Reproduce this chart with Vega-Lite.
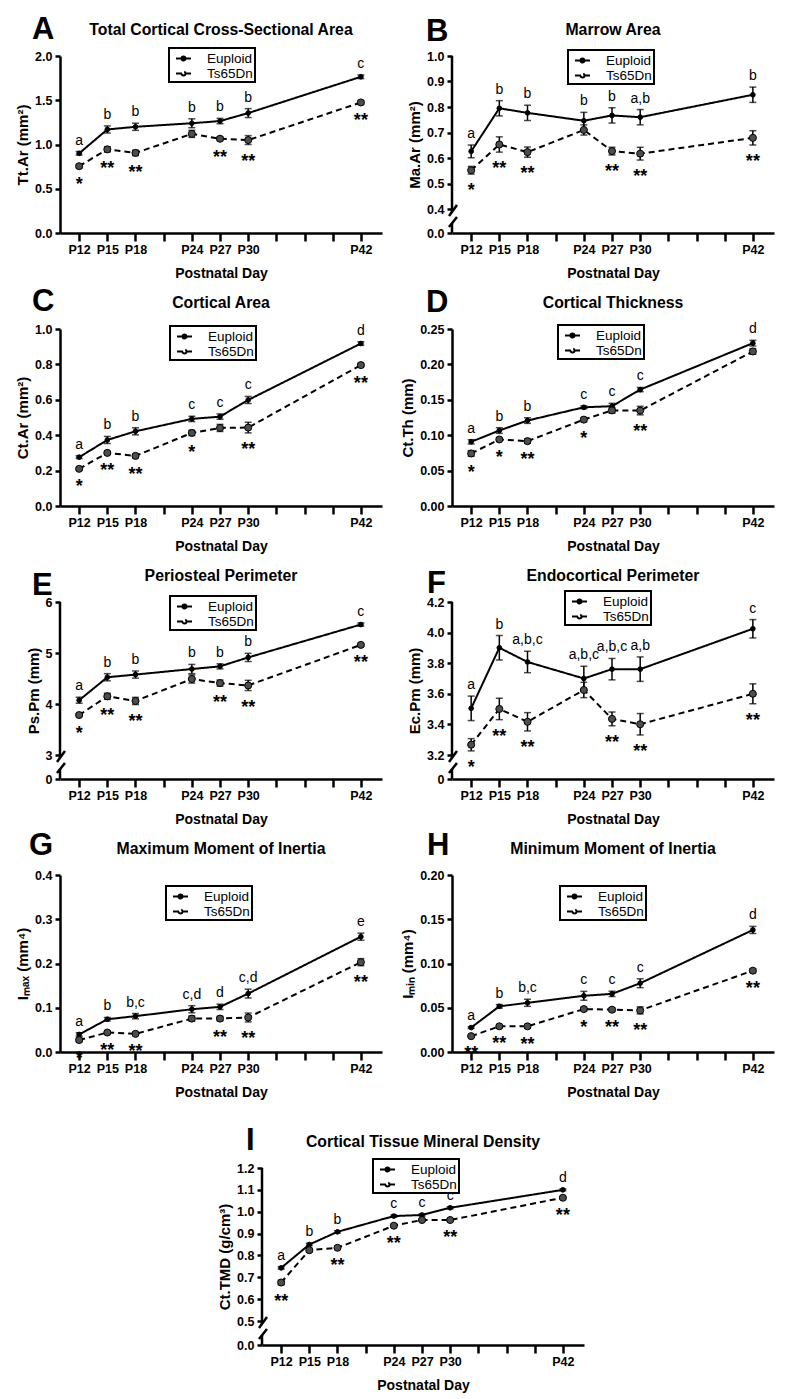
{
"$schema": "https://vega.github.io/schema/vega-lite/v6.json",
"padding": {"left": 15, "top": 14, "right": 5, "bottom": 5},
"background": "white",
"spacing": 25,
"resolve": {"scale": {"strokeDash": "independent"}, "legend": {"strokeDash": "independent"}},
"config": {
 "font": "Liberation Sans",
 "view": {"stroke": null},
 "axis": {"domainColor": "black", "domainWidth": 2.5, "tickColor": "black", "tickWidth": 2.5, "labelColor": "black", "labelFont": "Liberation Sans", "labelFontWeight": "bold", "labelFontSize": 12.5, "titleColor": "black", "titleFont": "Liberation Sans", "titleFontWeight": "bold", "grid": false, "labelOverlap": false, "labelFlush": false},
 "axisX": {"tickSize": 8, "labelPadding": 2, "titleFontSize": 14, "titlePadding": 11},
 "axisY": {"tickSize": 5, "labelPadding": 3, "titleFontSize": 15, "titlePadding": 4},
 "legend": {"strokeColor": "black", "strokeWidth": 2, "fillColor": "white", "padding": 2, "labelFont": "Liberation Sans", "labelFontSize": 13.5, "labelColor": "black", "symbolSize": 225, "symbolStrokeWidth": 2, "symbolOffset": 4, "labelOffset": 15, "rowPadding": 0},
 "text": {"font": "Liberation Sans", "color": "black"}
},
"datasets": {"d": [
{"p":"A","d":12,"g":"Euploid","m":0.9,"lo":0.88,"hi":0.92,"s":"a"},
{"p":"A","d":15,"g":"Euploid","m":1.17,"lo":1.13,"hi":1.21,"s":"b"},
{"p":"A","d":18,"g":"Euploid","m":1.2,"lo":1.16,"hi":1.24,"s":"b"},
{"p":"A","d":24,"g":"Euploid","m":1.24,"lo":1.19,"hi":1.29,"s":"b"},
{"p":"A","d":27,"g":"Euploid","m":1.265,"lo":1.235,"hi":1.295,"s":"b"},
{"p":"A","d":30,"g":"Euploid","m":1.355,"lo":1.305,"hi":1.405,"s":"b"},
{"p":"A","d":42,"g":"Euploid","m":1.765,"lo":1.745,"hi":1.785,"s":"c"},
{"p":"A","d":12,"g":"Ts65Dn","m":0.755,"lo":0.735,"hi":0.775,"s":"*"},
{"p":"A","d":15,"g":"Ts65Dn","m":0.945,"lo":0.915,"hi":0.975,"s":"**"},
{"p":"A","d":18,"g":"Ts65Dn","m":0.905,"lo":0.875,"hi":0.935,"s":"**"},
{"p":"A","d":24,"g":"Ts65Dn","m":1.12,"lo":1.08,"hi":1.16,"s":""},
{"p":"A","d":27,"g":"Ts65Dn","m":1.065,"lo":1.045,"hi":1.085,"s":"**"},
{"p":"A","d":30,"g":"Ts65Dn","m":1.05,"lo":1.0,"hi":1.1,"s":"**"},
{"p":"A","d":42,"g":"Ts65Dn","m":1.475,"lo":1.455,"hi":1.495,"s":"**"},
{"p":"B","d":12,"g":"Euploid","m":0.626,"lo":0.601,"hi":0.651,"s":"a"},
{"p":"B","d":15,"g":"Euploid","m":0.795,"lo":0.765,"hi":0.825,"s":"b"},
{"p":"B","d":18,"g":"Euploid","m":0.777,"lo":0.747,"hi":0.807,"s":"b"},
{"p":"B","d":24,"g":"Euploid","m":0.746,"lo":0.713,"hi":0.779,"s":"b"},
{"p":"B","d":27,"g":"Euploid","m":0.767,"lo":0.737,"hi":0.797,"s":"b"},
{"p":"B","d":30,"g":"Euploid","m":0.76,"lo":0.73,"hi":0.79,"s":"a,b"},
{"p":"B","d":42,"g":"Euploid","m":0.848,"lo":0.818,"hi":0.878,"s":"b"},
{"p":"B","d":12,"g":"Ts65Dn","m":0.552,"lo":0.537,"hi":0.567,"s":"*"},
{"p":"B","d":15,"g":"Ts65Dn","m":0.653,"lo":0.623,"hi":0.683,"s":"**"},
{"p":"B","d":18,"g":"Ts65Dn","m":0.623,"lo":0.603,"hi":0.643,"s":"**"},
{"p":"B","d":24,"g":"Ts65Dn","m":0.71,"lo":0.69,"hi":0.73,"s":""},
{"p":"B","d":27,"g":"Ts65Dn","m":0.627,"lo":0.612,"hi":0.642,"s":"**"},
{"p":"B","d":30,"g":"Ts65Dn","m":0.617,"lo":0.592,"hi":0.642,"s":"**"},
{"p":"B","d":42,"g":"Ts65Dn","m":0.679,"lo":0.651,"hi":0.707,"s":"**"},
{"p":"C","d":12,"g":"Euploid","m":0.276,"lo":0.268,"hi":0.284,"s":"a"},
{"p":"C","d":15,"g":"Euploid","m":0.373,"lo":0.353,"hi":0.393,"s":"b"},
{"p":"C","d":18,"g":"Euploid","m":0.422,"lo":0.402,"hi":0.442,"s":"b"},
{"p":"C","d":24,"g":"Euploid","m":0.492,"lo":0.477,"hi":0.507,"s":"c"},
{"p":"C","d":27,"g":"Euploid","m":0.505,"lo":0.49,"hi":0.52,"s":"c"},
{"p":"C","d":30,"g":"Euploid","m":0.599,"lo":0.579,"hi":0.619,"s":"c"},
{"p":"C","d":42,"g":"Euploid","m":0.918,"lo":0.908,"hi":0.928,"s":"d"},
{"p":"C","d":12,"g":"Ts65Dn","m":0.21,"lo":0.202,"hi":0.218,"s":"*"},
{"p":"C","d":15,"g":"Ts65Dn","m":0.3,"lo":0.292,"hi":0.308,"s":"**"},
{"p":"C","d":18,"g":"Ts65Dn","m":0.283,"lo":0.273,"hi":0.293,"s":"**"},
{"p":"C","d":24,"g":"Ts65Dn","m":0.413,"lo":0.398,"hi":0.428,"s":"*"},
{"p":"C","d":27,"g":"Ts65Dn","m":0.441,"lo":0.421,"hi":0.461,"s":""},
{"p":"C","d":30,"g":"Ts65Dn","m":0.443,"lo":0.413,"hi":0.473,"s":"**"},
{"p":"C","d":42,"g":"Ts65Dn","m":0.796,"lo":0.786,"hi":0.806,"s":"**"},
{"p":"D","d":12,"g":"Euploid","m":0.0907,"lo":0.0877,"hi":0.0937,"s":"a"},
{"p":"D","d":15,"g":"Euploid","m":0.1066,"lo":0.1026,"hi":0.1106,"s":"b"},
{"p":"D","d":18,"g":"Euploid","m":0.1207,"lo":0.1167,"hi":0.1247,"s":"b"},
{"p":"D","d":24,"g":"Euploid","m":0.1394,"lo":0.1374,"hi":0.1414,"s":"c"},
{"p":"D","d":27,"g":"Euploid","m":0.141,"lo":0.137,"hi":0.145,"s":"c"},
{"p":"D","d":30,"g":"Euploid","m":0.1644,"lo":0.1614,"hi":0.1674,"s":"c"},
{"p":"D","d":42,"g":"Euploid","m":0.23,"lo":0.226,"hi":0.234,"s":"d"},
{"p":"D","d":12,"g":"Ts65Dn","m":0.0742,"lo":0.0702,"hi":0.0782,"s":"*"},
{"p":"D","d":15,"g":"Ts65Dn","m":0.094,"lo":0.092,"hi":0.096,"s":"*"},
{"p":"D","d":18,"g":"Ts65Dn","m":0.0916,"lo":0.0886,"hi":0.0946,"s":"**"},
{"p":"D","d":24,"g":"Ts65Dn","m":0.122,"lo":0.119,"hi":0.125,"s":"*"},
{"p":"D","d":27,"g":"Ts65Dn","m":0.135,"lo":0.131,"hi":0.139,"s":""},
{"p":"D","d":30,"g":"Ts65Dn","m":0.1348,"lo":0.1288,"hi":0.1408,"s":"**"},
{"p":"D","d":42,"g":"Ts65Dn","m":0.2183,"lo":0.2143,"hi":0.2223,"s":""},
{"p":"E","d":12,"g":"Euploid","m":4.074,"lo":4.014,"hi":4.134,"s":"a"},
{"p":"E","d":15,"g":"Euploid","m":4.525,"lo":4.455,"hi":4.595,"s":"b"},
{"p":"E","d":18,"g":"Euploid","m":4.577,"lo":4.507,"hi":4.647,"s":"b"},
{"p":"E","d":24,"g":"Euploid","m":4.686,"lo":4.596,"hi":4.776,"s":"b"},
{"p":"E","d":27,"g":"Euploid","m":4.738,"lo":4.688,"hi":4.788,"s":"b"},
{"p":"E","d":30,"g":"Euploid","m":4.913,"lo":4.833,"hi":4.993,"s":"b"},
{"p":"E","d":42,"g":"Euploid","m":5.558,"lo":5.528,"hi":5.588,"s":"c"},
{"p":"E","d":12,"g":"Ts65Dn","m":3.783,"lo":3.753,"hi":3.813,"s":"*"},
{"p":"E","d":15,"g":"Ts65Dn","m":4.151,"lo":4.091,"hi":4.211,"s":"**"},
{"p":"E","d":18,"g":"Ts65Dn","m":4.06,"lo":3.99,"hi":4.13,"s":"**"},
{"p":"E","d":24,"g":"Ts65Dn","m":4.49,"lo":4.41,"hi":4.57,"s":""},
{"p":"E","d":27,"g":"Ts65Dn","m":4.41,"lo":4.35,"hi":4.47,"s":"**"},
{"p":"E","d":30,"g":"Ts65Dn","m":4.364,"lo":4.264,"hi":4.464,"s":"**"},
{"p":"E","d":42,"g":"Ts65Dn","m":5.159,"lo":5.129,"hi":5.189,"s":"**"},
{"p":"F","d":12,"g":"Euploid","m":3.505,"lo":3.425,"hi":3.585,"s":"a"},
{"p":"F","d":15,"g":"Euploid","m":3.901,"lo":3.821,"hi":3.981,"s":"b"},
{"p":"F","d":18,"g":"Euploid","m":3.808,"lo":3.738,"hi":3.878,"s":"a,b,c"},
{"p":"F","d":24,"g":"Euploid","m":3.7,"lo":3.62,"hi":3.78,"s":"a,b,c"},
{"p":"F","d":27,"g":"Euploid","m":3.761,"lo":3.691,"hi":3.831,"s":"a,b,c"},
{"p":"F","d":30,"g":"Euploid","m":3.761,"lo":3.681,"hi":3.841,"s":"a,b"},
{"p":"F","d":42,"g":"Euploid","m":4.025,"lo":3.965,"hi":4.085,"s":"c"},
{"p":"F","d":12,"g":"Ts65Dn","m":3.267,"lo":3.227,"hi":3.307,"s":"*"},
{"p":"F","d":15,"g":"Ts65Dn","m":3.501,"lo":3.431,"hi":3.571,"s":"**"},
{"p":"F","d":18,"g":"Ts65Dn","m":3.417,"lo":3.357,"hi":3.477,"s":"**"},
{"p":"F","d":24,"g":"Ts65Dn","m":3.625,"lo":3.575,"hi":3.675,"s":""},
{"p":"F","d":27,"g":"Ts65Dn","m":3.436,"lo":3.391,"hi":3.481,"s":"**"},
{"p":"F","d":30,"g":"Ts65Dn","m":3.401,"lo":3.331,"hi":3.471,"s":"**"},
{"p":"F","d":42,"g":"Ts65Dn","m":3.6,"lo":3.535,"hi":3.665,"s":"**"},
{"p":"G","d":12,"g":"Euploid","m":0.0396,"lo":0.0356,"hi":0.0436,"s":"a"},
{"p":"G","d":15,"g":"Euploid","m":0.074,"lo":0.07,"hi":0.078,"s":"b"},
{"p":"G","d":18,"g":"Euploid","m":0.081,"lo":0.075,"hi":0.087,"s":"b,c"},
{"p":"G","d":24,"g":"Euploid","m":0.0966,"lo":0.0886,"hi":0.1046,"s":"c,d"},
{"p":"G","d":27,"g":"Euploid","m":0.102,"lo":0.096,"hi":0.108,"s":"d"},
{"p":"G","d":30,"g":"Euploid","m":0.132,"lo":0.122,"hi":0.142,"s":"c,d"},
{"p":"G","d":42,"g":"Euploid","m":0.2606,"lo":0.2526,"hi":0.2686,"s":"e"},
{"p":"G","d":12,"g":"Ts65Dn","m":0.027,"lo":0.023,"hi":0.031,"s":"*"},
{"p":"G","d":15,"g":"Ts65Dn","m":0.044,"lo":0.041,"hi":0.047,"s":"**"},
{"p":"G","d":18,"g":"Ts65Dn","m":0.041,"lo":0.038,"hi":0.044,"s":"**"},
{"p":"G","d":24,"g":"Ts65Dn","m":0.0755,"lo":0.0695,"hi":0.0815,"s":""},
{"p":"G","d":27,"g":"Ts65Dn","m":0.0755,"lo":0.0705,"hi":0.0805,"s":"**"},
{"p":"G","d":30,"g":"Ts65Dn","m":0.078,"lo":0.068,"hi":0.088,"s":"**"},
{"p":"G","d":42,"g":"Ts65Dn","m":0.203,"lo":0.195,"hi":0.211,"s":"**"},
{"p":"H","d":12,"g":"Euploid","m":0.0276,"lo":0.0266,"hi":0.0286,"s":"a"},
{"p":"H","d":15,"g":"Euploid","m":0.0516,"lo":0.0496,"hi":0.0536,"s":"b"},
{"p":"H","d":18,"g":"Euploid","m":0.0556,"lo":0.0516,"hi":0.0596,"s":"b,c"},
{"p":"H","d":24,"g":"Euploid","m":0.0635,"lo":0.0585,"hi":0.0685,"s":"c"},
{"p":"H","d":27,"g":"Euploid","m":0.0657,"lo":0.0627,"hi":0.0687,"s":"c"},
{"p":"H","d":30,"g":"Euploid","m":0.0777,"lo":0.0727,"hi":0.0827,"s":"c"},
{"p":"H","d":42,"g":"Euploid","m":0.1379,"lo":0.1339,"hi":0.1419,"s":"d"},
{"p":"H","d":12,"g":"Ts65Dn","m":0.0179,"lo":0.0169,"hi":0.0189,"s":"**"},
{"p":"H","d":15,"g":"Ts65Dn","m":0.029,"lo":0.028,"hi":0.03,"s":"**"},
{"p":"H","d":18,"g":"Ts65Dn","m":0.029,"lo":0.027,"hi":0.031,"s":"**"},
{"p":"H","d":24,"g":"Ts65Dn","m":0.0485,"lo":0.0465,"hi":0.0505,"s":"*"},
{"p":"H","d":27,"g":"Ts65Dn","m":0.0478,"lo":0.0458,"hi":0.0498,"s":"**"},
{"p":"H","d":30,"g":"Ts65Dn","m":0.047,"lo":0.043,"hi":0.051,"s":"**"},
{"p":"H","d":42,"g":"Ts65Dn","m":0.0919,"lo":0.0899,"hi":0.0939,"s":"**"},
{"p":"I","d":12,"g":"Euploid","m":0.743,"lo":0.738,"hi":0.748,"s":"a"},
{"p":"I","d":15,"g":"Euploid","m":0.85,"lo":0.845,"hi":0.855,"s":"b"},
{"p":"I","d":18,"g":"Euploid","m":0.908,"lo":0.903,"hi":0.913,"s":"b"},
{"p":"I","d":24,"g":"Euploid","m":0.98,"lo":0.975,"hi":0.985,"s":"c"},
{"p":"I","d":27,"g":"Euploid","m":0.985,"lo":0.98,"hi":0.99,"s":"c"},
{"p":"I","d":30,"g":"Euploid","m":1.018,"lo":1.013,"hi":1.023,"s":"c"},
{"p":"I","d":42,"g":"Euploid","m":1.1,"lo":1.096,"hi":1.104,"s":"d"},
{"p":"I","d":12,"g":"Ts65Dn","m":0.676,"lo":0.666,"hi":0.686,"s":"**"},
{"p":"I","d":15,"g":"Ts65Dn","m":0.824,"lo":0.816,"hi":0.832,"s":""},
{"p":"I","d":18,"g":"Ts65Dn","m":0.835,"lo":0.829,"hi":0.841,"s":"**"},
{"p":"I","d":24,"g":"Ts65Dn","m":0.936,"lo":0.93,"hi":0.942,"s":"**"},
{"p":"I","d":27,"g":"Ts65Dn","m":0.962,"lo":0.957,"hi":0.967,"s":""},
{"p":"I","d":30,"g":"Ts65Dn","m":0.962,"lo":0.957,"hi":0.967,"s":"**"},
{"p":"I","d":42,"g":"Ts65Dn","m":1.064,"lo":1.059,"hi":1.069,"s":"**"}
]},
"vconcat": [
{"concat": [
 {"width": 322, "height": 177, "data": {"name": "d"}, "transform": [{"filter": "datum.p=='A'"}],
  "encoding": {"x": {"field": "d", "type": "quantitative", "scale": {"domain": [9.96, 44.25], "nice": false, "zero": false}, "axis": {"title": "Postnatal Day", "values": [12,15,18,21,24,27,30,33,36,39,42], "tickCount": 30, "labelExpr": "(datum.value == 21 || (datum.value >= 33 && datum.value <= 39)) ? '' : 'P' + datum.value"}}},
  "layer": [
   {"mark": {"type": "line", "color": "black", "strokeWidth": 2}, "encoding": {"y": {"field": "m", "type": "quantitative", "title": "Tt.Ar (mm²)", "scale": {"domain": [0, 2], "nice": false, "zero": false}, "axis": {"values": [0, 0.5, 1, 1.5, 2], "tickCount": 30, "format": ".1f", "labelOverlap": false}}, "strokeDash": {"field": "g", "type": "nominal", "scale": {"domain": ["Euploid", "Ts65Dn"], "range": [[1, 0], [6, 4]]}, "legend": {"orient": "none", "legendX": 109, "legendY": -8, "title": null, "symbolType": "M-1,0H1M0.27,0A0.27,0.27,0,1,1,-0.27,0A0.27,0.27,0,1,1,0.27,0", "labelExpr": "datum.label + '  '", "encode": {"symbols": {"update": {"fill": {"value": "black"}}}}}}}},
   {"mark": {"type": "rule", "color": "black", "strokeWidth": 1.5}, "encoding": {"y": {"field": "lo", "type": "quantitative", "title": "Tt.Ar (mm²)"}, "y2": {"field": "hi"}}},
   {"mark": {"type": "tick", "orient": "horizontal", "size": 7, "thickness": 1.5, "color": "black"}, "encoding": {"y": {"field": "lo", "type": "quantitative", "title": "Tt.Ar (mm²)"}}},
   {"mark": {"type": "tick", "orient": "horizontal", "size": 7, "thickness": 1.5, "color": "black"}, "encoding": {"y": {"field": "hi", "type": "quantitative", "title": "Tt.Ar (mm²)"}}},
   {"mark": {"type": "point", "shape": "circle", "filled": true, "stroke": "black", "strokeWidth": 1, "opacity": 1}, "encoding": {"y": {"field": "m", "type": "quantitative", "title": "Tt.Ar (mm²)"}, "size": {"condition": {"test": "datum.g=='Ts65Dn'", "value": 50}, "value": 22}, "fill": {"condition": {"test": "datum.g=='Ts65Dn'", "value": "#4d4d4d"}, "value": "black"}}},
   {"transform": [{"filter": "datum.g=='Euploid'"}], "mark": {"type": "text", "fontSize": 14, "baseline": "alphabetic", "dy": -7}, "encoding": {"y": {"field": "hi", "type": "quantitative", "title": "Tt.Ar (mm²)"}, "text": {"field": "s"}}},
   {"transform": [{"filter": "datum.g=='Ts65Dn'"}], "mark": {"type": "text", "fontSize": 18, "fontWeight": "bold", "baseline": "alphabetic", "dy": 22}, "encoding": {"y": {"field": "lo", "type": "quantitative", "title": "Tt.Ar (mm²)"}, "text": {"field": "s"}}},
   {"transform": [{"filter": "datum.d==12 && datum.g=='Euploid'"}], "mark": {"type": "text", "fontSize": 31, "fontWeight": "bold", "align": "left", "baseline": "alphabetic", "dx": -28, "dy": -17}, "encoding": {"x": {"datum": 9.96}, "y": {"datum": 2}, "text": {"value": "A"}}},
   {"transform": [{"filter": "datum.d==12 && datum.g=='Euploid'"}], "mark": {"type": "text", "fontSize": 15.8, "fontWeight": "bold", "align": "center", "baseline": "alphabetic", "dy": -21}, "encoding": {"x": {"datum": 27.105}, "y": {"datum": 2}, "text": {"value": "Total Cortical Cross-Sectional Area"}}}
  ]},
 {"width": 322, "height": 177, "data": {"name": "d"}, "transform": [{"filter": "datum.p=='B'"}],
  "encoding": {"x": {"field": "d", "type": "quantitative", "scale": {"domain": [9.96, 44.25], "nice": false, "zero": false}, "axis": {"title": "Postnatal Day", "values": [12,15,18,21,24,27,30,33,36,39,42], "tickCount": 30, "labelExpr": "(datum.value == 21 || (datum.value >= 33 && datum.value <= 39)) ? '' : 'P' + datum.value"}}},
  "layer": [
   {"mark": {"type": "line", "color": "black", "strokeWidth": 2}, "encoding": {"y": {"field": "m", "type": "quantitative", "title": "Ma.Ar (mm²)", "scale": {"domain": [0, 0.4, 1.0], "range": [177, 153, 0], "nice": false, "zero": false}, "axis": {"values": [0, 0.4, 0.5, 0.6, 0.7, 0.8, 0.9, 1.0], "tickCount": 30, "format": ".1f", "domain": false, "labelOverlap": false}}, "strokeDash": {"field": "g", "type": "nominal", "scale": {"domain": ["Euploid", "Ts65Dn"], "range": [[1, 0], [6, 4]]}, "legend": {"orient": "none", "legendX": 116, "legendY": -6, "title": null, "symbolType": "M-1,0H1M0.27,0A0.27,0.27,0,1,1,-0.27,0A0.27,0.27,0,1,1,0.27,0", "labelExpr": "datum.label + '  '", "encode": {"symbols": {"update": {"fill": {"value": "black"}}}}}}}},
   {"mark": {"type": "rule", "color": "black", "strokeWidth": 1.5}, "encoding": {"y": {"field": "lo", "type": "quantitative", "title": "Ma.Ar (mm²)"}, "y2": {"field": "hi"}}},
   {"mark": {"type": "tick", "orient": "horizontal", "size": 7, "thickness": 1.5, "color": "black"}, "encoding": {"y": {"field": "lo", "type": "quantitative", "title": "Ma.Ar (mm²)"}}},
   {"mark": {"type": "tick", "orient": "horizontal", "size": 7, "thickness": 1.5, "color": "black"}, "encoding": {"y": {"field": "hi", "type": "quantitative", "title": "Ma.Ar (mm²)"}}},
   {"mark": {"type": "point", "shape": "circle", "filled": true, "stroke": "black", "strokeWidth": 1, "opacity": 1}, "encoding": {"y": {"field": "m", "type": "quantitative", "title": "Ma.Ar (mm²)"}, "size": {"condition": {"test": "datum.g=='Ts65Dn'", "value": 50}, "value": 22}, "fill": {"condition": {"test": "datum.g=='Ts65Dn'", "value": "#4d4d4d"}, "value": "black"}}},
   {"transform": [{"filter": "datum.g=='Euploid'"}], "mark": {"type": "text", "fontSize": 14, "baseline": "alphabetic", "dy": -7}, "encoding": {"y": {"field": "hi", "type": "quantitative", "title": "Ma.Ar (mm²)"}, "text": {"field": "s"}}},
   {"transform": [{"filter": "datum.g=='Ts65Dn'"}], "mark": {"type": "text", "fontSize": 18, "fontWeight": "bold", "baseline": "alphabetic", "dy": 22}, "encoding": {"y": {"field": "lo", "type": "quantitative", "title": "Ma.Ar (mm²)"}, "text": {"field": "s"}}},
   {"transform": [{"filter": "datum.d==12 && datum.g=='Euploid'"}], "mark": {"type": "rule", "color": "black", "strokeWidth": 2.5}, "encoding": {"x": {"datum": 9.96}, "y": {"datum": 0.35}, "y2": {"datum": 1.0}}},
   {"transform": [{"filter": "datum.d==12 && datum.g=='Euploid'"}], "mark": {"type": "rule", "color": "black", "strokeWidth": 2.5}, "encoding": {"x": {"datum": 9.96}, "y": {"datum": 0}, "y2": {"datum": 0.1667}}},
   {"transform": [{"filter": "datum.d==12 && datum.g=='Euploid'"}], "mark": {"type": "rule", "color": "black", "strokeWidth": 2.5}, "encoding": {"x": {"datum": 9.64}, "x2": {"datum": 10.49}, "y": {"datum": 0.2833}, "y2": {"datum": 0.4157}}},
   {"transform": [{"filter": "datum.d==12 && datum.g=='Euploid'"}], "mark": {"type": "rule", "color": "black", "strokeWidth": 2.5}, "encoding": {"x": {"datum": 9.64}, "x2": {"datum": 10.49}, "y": {"datum": 0.1}, "y2": {"datum": 0.2667}}},
   {"transform": [{"filter": "datum.d==12 && datum.g=='Euploid'"}], "mark": {"type": "text", "fontSize": 31, "fontWeight": "bold", "align": "left", "baseline": "alphabetic", "dx": -26, "dy": -15}, "encoding": {"x": {"datum": 9.96}, "y": {"datum": 1.0}, "text": {"value": "B"}}},
   {"transform": [{"filter": "datum.d==12 && datum.g=='Euploid'"}], "mark": {"type": "text", "fontSize": 15.8, "fontWeight": "bold", "align": "center", "baseline": "alphabetic", "dy": -21}, "encoding": {"x": {"datum": 27.105}, "y": {"datum": 1.0}, "text": {"value": "Marrow Area"}}}
  ]},
 {"width": 322, "height": 177, "data": {"name": "d"}, "transform": [{"filter": "datum.p=='C'"}],
  "encoding": {"x": {"field": "d", "type": "quantitative", "scale": {"domain": [9.96, 44.25], "nice": false, "zero": false}, "axis": {"title": "Postnatal Day", "values": [12,15,18,21,24,27,30,33,36,39,42], "tickCount": 30, "labelExpr": "(datum.value == 21 || (datum.value >= 33 && datum.value <= 39)) ? '' : 'P' + datum.value"}}},
  "layer": [
   {"mark": {"type": "line", "color": "black", "strokeWidth": 2}, "encoding": {"y": {"field": "m", "type": "quantitative", "title": "Ct.Ar (mm²)", "scale": {"domain": [0, 1], "nice": false, "zero": false}, "axis": {"values": [0, 0.2, 0.4, 0.6, 0.8, 1.0], "tickCount": 30, "format": ".1f", "labelOverlap": false}}, "strokeDash": {"field": "g", "type": "nominal", "scale": {"domain": ["Euploid", "Ts65Dn"], "range": [[1, 0], [6, 4]]}, "legend": {"orient": "none", "legendX": 110, "legendY": -3, "title": null, "symbolType": "M-1,0H1M0.27,0A0.27,0.27,0,1,1,-0.27,0A0.27,0.27,0,1,1,0.27,0", "labelExpr": "datum.label + '  '", "encode": {"symbols": {"update": {"fill": {"value": "black"}}}}}}}},
   {"mark": {"type": "rule", "color": "black", "strokeWidth": 1.5}, "encoding": {"y": {"field": "lo", "type": "quantitative", "title": "Ct.Ar (mm²)"}, "y2": {"field": "hi"}}},
   {"mark": {"type": "tick", "orient": "horizontal", "size": 7, "thickness": 1.5, "color": "black"}, "encoding": {"y": {"field": "lo", "type": "quantitative", "title": "Ct.Ar (mm²)"}}},
   {"mark": {"type": "tick", "orient": "horizontal", "size": 7, "thickness": 1.5, "color": "black"}, "encoding": {"y": {"field": "hi", "type": "quantitative", "title": "Ct.Ar (mm²)"}}},
   {"mark": {"type": "point", "shape": "circle", "filled": true, "stroke": "black", "strokeWidth": 1, "opacity": 1}, "encoding": {"y": {"field": "m", "type": "quantitative", "title": "Ct.Ar (mm²)"}, "size": {"condition": {"test": "datum.g=='Ts65Dn'", "value": 50}, "value": 22}, "fill": {"condition": {"test": "datum.g=='Ts65Dn'", "value": "#4d4d4d"}, "value": "black"}}},
   {"transform": [{"filter": "datum.g=='Euploid'"}], "mark": {"type": "text", "fontSize": 14, "baseline": "alphabetic", "dy": -7}, "encoding": {"y": {"field": "hi", "type": "quantitative", "title": "Ct.Ar (mm²)"}, "text": {"field": "s"}}},
   {"transform": [{"filter": "datum.g=='Ts65Dn'"}], "mark": {"type": "text", "fontSize": 18, "fontWeight": "bold", "baseline": "alphabetic", "dy": 22}, "encoding": {"y": {"field": "lo", "type": "quantitative", "title": "Ct.Ar (mm²)"}, "text": {"field": "s"}}},
   {"transform": [{"filter": "datum.d==12 && datum.g=='Euploid'"}], "mark": {"type": "text", "fontSize": 31, "fontWeight": "bold", "align": "left", "baseline": "alphabetic", "dx": -28, "dy": -18}, "encoding": {"x": {"datum": 9.96}, "y": {"datum": 1}, "text": {"value": "C"}}},
   {"transform": [{"filter": "datum.d==12 && datum.g=='Euploid'"}], "mark": {"type": "text", "fontSize": 15.8, "fontWeight": "bold", "align": "center", "baseline": "alphabetic", "dy": -21}, "encoding": {"x": {"datum": 27.105}, "y": {"datum": 1}, "text": {"value": "Cortical Area"}}}
  ]},
 {"width": 322, "height": 177, "data": {"name": "d"}, "transform": [{"filter": "datum.p=='D'"}],
  "encoding": {"x": {"field": "d", "type": "quantitative", "scale": {"domain": [9.96, 44.25], "nice": false, "zero": false}, "axis": {"title": "Postnatal Day", "values": [12,15,18,21,24,27,30,33,36,39,42], "tickCount": 30, "labelExpr": "(datum.value == 21 || (datum.value >= 33 && datum.value <= 39)) ? '' : 'P' + datum.value"}}},
  "layer": [
   {"mark": {"type": "line", "color": "black", "strokeWidth": 2}, "encoding": {"y": {"field": "m", "type": "quantitative", "title": "Ct.Th (mm)", "scale": {"domain": [0, 0.25], "nice": false, "zero": false}, "axis": {"values": [0, 0.05, 0.1, 0.15, 0.2, 0.25], "tickCount": 30, "format": ".2f", "labelOverlap": false}}, "strokeDash": {"field": "g", "type": "nominal", "scale": {"domain": ["Euploid", "Ts65Dn"], "range": [[1, 0], [6, 4]]}, "legend": {"orient": "none", "legendX": 106, "legendY": -4, "title": null, "symbolType": "M-1,0H1M0.27,0A0.27,0.27,0,1,1,-0.27,0A0.27,0.27,0,1,1,0.27,0", "labelExpr": "datum.label + '  '", "encode": {"symbols": {"update": {"fill": {"value": "black"}}}}}}}},
   {"mark": {"type": "rule", "color": "black", "strokeWidth": 1.5}, "encoding": {"y": {"field": "lo", "type": "quantitative", "title": "Ct.Th (mm)"}, "y2": {"field": "hi"}}},
   {"mark": {"type": "tick", "orient": "horizontal", "size": 7, "thickness": 1.5, "color": "black"}, "encoding": {"y": {"field": "lo", "type": "quantitative", "title": "Ct.Th (mm)"}}},
   {"mark": {"type": "tick", "orient": "horizontal", "size": 7, "thickness": 1.5, "color": "black"}, "encoding": {"y": {"field": "hi", "type": "quantitative", "title": "Ct.Th (mm)"}}},
   {"mark": {"type": "point", "shape": "circle", "filled": true, "stroke": "black", "strokeWidth": 1, "opacity": 1}, "encoding": {"y": {"field": "m", "type": "quantitative", "title": "Ct.Th (mm)"}, "size": {"condition": {"test": "datum.g=='Ts65Dn'", "value": 50}, "value": 22}, "fill": {"condition": {"test": "datum.g=='Ts65Dn'", "value": "#4d4d4d"}, "value": "black"}}},
   {"transform": [{"filter": "datum.g=='Euploid'"}], "mark": {"type": "text", "fontSize": 14, "baseline": "alphabetic", "dy": -7}, "encoding": {"y": {"field": "hi", "type": "quantitative", "title": "Ct.Th (mm)"}, "text": {"field": "s"}}},
   {"transform": [{"filter": "datum.g=='Ts65Dn'"}], "mark": {"type": "text", "fontSize": 18, "fontWeight": "bold", "baseline": "alphabetic", "dy": 22}, "encoding": {"y": {"field": "lo", "type": "quantitative", "title": "Ct.Th (mm)"}, "text": {"field": "s"}}},
   {"transform": [{"filter": "datum.d==12 && datum.g=='Euploid'"}], "mark": {"type": "text", "fontSize": 31, "fontWeight": "bold", "align": "left", "baseline": "alphabetic", "dx": -26, "dy": -17}, "encoding": {"x": {"datum": 9.96}, "y": {"datum": 0.25}, "text": {"value": "D"}}},
   {"transform": [{"filter": "datum.d==12 && datum.g=='Euploid'"}], "mark": {"type": "text", "fontSize": 15.8, "fontWeight": "bold", "align": "center", "baseline": "alphabetic", "dy": -21}, "encoding": {"x": {"datum": 27.105}, "y": {"datum": 0.25}, "text": {"value": "Cortical Thickness"}}}
  ]},
 {"width": 322, "height": 177, "data": {"name": "d"}, "transform": [{"filter": "datum.p=='E'"}],
  "encoding": {"x": {"field": "d", "type": "quantitative", "scale": {"domain": [9.96, 44.25], "nice": false, "zero": false}, "axis": {"title": "Postnatal Day", "values": [12,15,18,21,24,27,30,33,36,39,42], "tickCount": 30, "labelExpr": "(datum.value == 21 || (datum.value >= 33 && datum.value <= 39)) ? '' : 'P' + datum.value"}}},
  "layer": [
   {"mark": {"type": "line", "color": "black", "strokeWidth": 2}, "encoding": {"y": {"field": "m", "type": "quantitative", "title": "Ps.Pm (mm)", "scale": {"domain": [0, 3, 6], "range": [177, 153, 0], "nice": false, "zero": false}, "axis": {"values": [0, 3, 4, 5, 6], "tickCount": 30, "format": "d", "domain": false, "labelOverlap": false}}, "strokeDash": {"field": "g", "type": "nominal", "scale": {"domain": ["Euploid", "Ts65Dn"], "range": [[1, 0], [6, 4]]}, "legend": {"orient": "none", "legendX": 110, "legendY": -6, "title": null, "symbolType": "M-1,0H1M0.27,0A0.27,0.27,0,1,1,-0.27,0A0.27,0.27,0,1,1,0.27,0", "labelExpr": "datum.label + '  '", "encode": {"symbols": {"update": {"fill": {"value": "black"}}}}}}}},
   {"mark": {"type": "rule", "color": "black", "strokeWidth": 1.5}, "encoding": {"y": {"field": "lo", "type": "quantitative", "title": "Ps.Pm (mm)"}, "y2": {"field": "hi"}}},
   {"mark": {"type": "tick", "orient": "horizontal", "size": 7, "thickness": 1.5, "color": "black"}, "encoding": {"y": {"field": "lo", "type": "quantitative", "title": "Ps.Pm (mm)"}}},
   {"mark": {"type": "tick", "orient": "horizontal", "size": 7, "thickness": 1.5, "color": "black"}, "encoding": {"y": {"field": "hi", "type": "quantitative", "title": "Ps.Pm (mm)"}}},
   {"mark": {"type": "point", "shape": "circle", "filled": true, "stroke": "black", "strokeWidth": 1, "opacity": 1}, "encoding": {"y": {"field": "m", "type": "quantitative", "title": "Ps.Pm (mm)"}, "size": {"condition": {"test": "datum.g=='Ts65Dn'", "value": 50}, "value": 22}, "fill": {"condition": {"test": "datum.g=='Ts65Dn'", "value": "#4d4d4d"}, "value": "black"}}},
   {"transform": [{"filter": "datum.g=='Euploid'"}], "mark": {"type": "text", "fontSize": 14, "baseline": "alphabetic", "dy": -7}, "encoding": {"y": {"field": "hi", "type": "quantitative", "title": "Ps.Pm (mm)"}, "text": {"field": "s"}}},
   {"transform": [{"filter": "datum.g=='Ts65Dn'"}], "mark": {"type": "text", "fontSize": 18, "fontWeight": "bold", "baseline": "alphabetic", "dy": 22}, "encoding": {"y": {"field": "lo", "type": "quantitative", "title": "Ps.Pm (mm)"}, "text": {"field": "s"}}},
   {"transform": [{"filter": "datum.d==12 && datum.g=='Euploid'"}], "mark": {"type": "rule", "color": "black", "strokeWidth": 2.5}, "encoding": {"x": {"datum": 9.96}, "y": {"datum": 2.625}, "y2": {"datum": 6}}},
   {"transform": [{"filter": "datum.d==12 && datum.g=='Euploid'"}], "mark": {"type": "rule", "color": "black", "strokeWidth": 2.5}, "encoding": {"x": {"datum": 9.96}, "y": {"datum": 0}, "y2": {"datum": 1.25}}},
   {"transform": [{"filter": "datum.d==12 && datum.g=='Euploid'"}], "mark": {"type": "rule", "color": "black", "strokeWidth": 2.5}, "encoding": {"x": {"datum": 9.64}, "x2": {"datum": 10.49}, "y": {"datum": 2.125}, "y2": {"datum": 3.0784}}},
   {"transform": [{"filter": "datum.d==12 && datum.g=='Euploid'"}], "mark": {"type": "rule", "color": "black", "strokeWidth": 2.5}, "encoding": {"x": {"datum": 9.64}, "x2": {"datum": 10.49}, "y": {"datum": 0.75}, "y2": {"datum": 2.0}}},
   {"transform": [{"filter": "datum.d==12 && datum.g=='Euploid'"}], "mark": {"type": "text", "fontSize": 31, "fontWeight": "bold", "align": "left", "baseline": "alphabetic", "dx": -28, "dy": -7}, "encoding": {"x": {"datum": 9.96}, "y": {"datum": 6}, "text": {"value": "E"}}},
   {"transform": [{"filter": "datum.d==12 && datum.g=='Euploid'"}], "mark": {"type": "text", "fontSize": 15.8, "fontWeight": "bold", "align": "center", "baseline": "alphabetic", "dy": -21}, "encoding": {"x": {"datum": 27.105}, "y": {"datum": 6}, "text": {"value": "Periosteal Perimeter"}}}
  ]},
 {"width": 322, "height": 177, "data": {"name": "d"}, "transform": [{"filter": "datum.p=='F'"}],
  "encoding": {"x": {"field": "d", "type": "quantitative", "scale": {"domain": [9.96, 44.25], "nice": false, "zero": false}, "axis": {"title": "Postnatal Day", "values": [12,15,18,21,24,27,30,33,36,39,42], "tickCount": 30, "labelExpr": "(datum.value == 21 || (datum.value >= 33 && datum.value <= 39)) ? '' : 'P' + datum.value"}}},
  "layer": [
   {"mark": {"type": "line", "color": "black", "strokeWidth": 2}, "encoding": {"y": {"field": "m", "type": "quantitative", "title": "Ec.Pm (mm)", "scale": {"domain": [0, 3.2, 4.2], "range": [177, 153, 0], "nice": false, "zero": false}, "axis": {"values": [0, 3.2, 3.4, 3.6, 3.8, 4.0, 4.2], "tickCount": 30, "labelExpr": "datum.value == 0 ? '0' : format(datum.value, '.1f')", "domain": false, "labelOverlap": false}}, "strokeDash": {"field": "g", "type": "nominal", "scale": {"domain": ["Euploid", "Ts65Dn"], "range": [[1, 0], [6, 4]]}, "legend": {"orient": "none", "legendX": 113, "legendY": -11, "title": null, "symbolType": "M-1,0H1M0.27,0A0.27,0.27,0,1,1,-0.27,0A0.27,0.27,0,1,1,0.27,0", "labelExpr": "datum.label + '  '", "encode": {"symbols": {"update": {"fill": {"value": "black"}}}}}}}},
   {"mark": {"type": "rule", "color": "black", "strokeWidth": 1.5}, "encoding": {"y": {"field": "lo", "type": "quantitative", "title": "Ec.Pm (mm)"}, "y2": {"field": "hi"}}},
   {"mark": {"type": "tick", "orient": "horizontal", "size": 7, "thickness": 1.5, "color": "black"}, "encoding": {"y": {"field": "lo", "type": "quantitative", "title": "Ec.Pm (mm)"}}},
   {"mark": {"type": "tick", "orient": "horizontal", "size": 7, "thickness": 1.5, "color": "black"}, "encoding": {"y": {"field": "hi", "type": "quantitative", "title": "Ec.Pm (mm)"}}},
   {"mark": {"type": "point", "shape": "circle", "filled": true, "stroke": "black", "strokeWidth": 1, "opacity": 1}, "encoding": {"y": {"field": "m", "type": "quantitative", "title": "Ec.Pm (mm)"}, "size": {"condition": {"test": "datum.g=='Ts65Dn'", "value": 50}, "value": 22}, "fill": {"condition": {"test": "datum.g=='Ts65Dn'", "value": "#4d4d4d"}, "value": "black"}}},
   {"transform": [{"filter": "datum.g=='Euploid'"}], "mark": {"type": "text", "fontSize": 14, "baseline": "alphabetic", "dy": -7}, "encoding": {"y": {"field": "hi", "type": "quantitative", "title": "Ec.Pm (mm)"}, "text": {"field": "s"}}},
   {"transform": [{"filter": "datum.g=='Ts65Dn'"}], "mark": {"type": "text", "fontSize": 18, "fontWeight": "bold", "baseline": "alphabetic", "dy": 22}, "encoding": {"y": {"field": "lo", "type": "quantitative", "title": "Ec.Pm (mm)"}, "text": {"field": "s"}}},
   {"transform": [{"filter": "datum.d==12 && datum.g=='Euploid'"}], "mark": {"type": "rule", "color": "black", "strokeWidth": 2.5}, "encoding": {"x": {"datum": 9.96}, "y": {"datum": 2.8}, "y2": {"datum": 4.2}}},
   {"transform": [{"filter": "datum.d==12 && datum.g=='Euploid'"}], "mark": {"type": "rule", "color": "black", "strokeWidth": 2.5}, "encoding": {"x": {"datum": 9.96}, "y": {"datum": 0}, "y2": {"datum": 1.3333}}},
   {"transform": [{"filter": "datum.d==12 && datum.g=='Euploid'"}], "mark": {"type": "rule", "color": "black", "strokeWidth": 2.5}, "encoding": {"x": {"datum": 9.64}, "x2": {"datum": 10.49}, "y": {"datum": 2.2667}, "y2": {"datum": 3.2261}}},
   {"transform": [{"filter": "datum.d==12 && datum.g=='Euploid'"}], "mark": {"type": "rule", "color": "black", "strokeWidth": 2.5}, "encoding": {"x": {"datum": 9.64}, "x2": {"datum": 10.49}, "y": {"datum": 0.8}, "y2": {"datum": 2.1333}}},
   {"transform": [{"filter": "datum.d==12 && datum.g=='Euploid'"}], "mark": {"type": "text", "fontSize": 31, "fontWeight": "bold", "align": "left", "baseline": "alphabetic", "dx": -25, "dy": -9}, "encoding": {"x": {"datum": 9.96}, "y": {"datum": 4.2}, "text": {"value": "F"}}},
   {"transform": [{"filter": "datum.d==12 && datum.g=='Euploid'"}], "mark": {"type": "text", "fontSize": 15.8, "fontWeight": "bold", "align": "center", "baseline": "alphabetic", "dy": -21}, "encoding": {"x": {"datum": 27.105}, "y": {"datum": 4.2}, "text": {"value": "Endocortical Perimeter"}}}
  ]},
 {"width": 322, "height": 177, "data": {"name": "d"}, "transform": [{"filter": "datum.p=='G'"}],
  "encoding": {"x": {"field": "d", "type": "quantitative", "scale": {"domain": [9.96, 44.25], "nice": false, "zero": false}, "axis": {"title": "Postnatal Day", "values": [12,15,18,21,24,27,30,33,36,39,42], "tickCount": 30, "labelExpr": "(datum.value == 21 || (datum.value >= 33 && datum.value <= 39)) ? '' : 'P' + datum.value"}}},
  "layer": [
   {"mark": {"type": "line", "color": "black", "strokeWidth": 2}, "encoding": {"y": {"field": "m", "type": "quantitative", "title": "Iₘₐₓ (mm⁴)", "scale": {"domain": [0, 0.4], "nice": false, "zero": false}, "axis": {"values": [0, 0.1, 0.2, 0.3, 0.4], "tickCount": 30, "format": ".1f", "labelOverlap": false}}, "strokeDash": {"field": "g", "type": "nominal", "scale": {"domain": ["Euploid", "Ts65Dn"], "range": [[1, 0], [6, 4]]}, "legend": {"orient": "none", "legendX": 106, "legendY": 11, "title": null, "symbolType": "M-1,0H1M0.27,0A0.27,0.27,0,1,1,-0.27,0A0.27,0.27,0,1,1,0.27,0", "labelExpr": "datum.label + '  '", "encode": {"symbols": {"update": {"fill": {"value": "black"}}}}}}}},
   {"mark": {"type": "rule", "color": "black", "strokeWidth": 1.5}, "encoding": {"y": {"field": "lo", "type": "quantitative", "title": "Iₘₐₓ (mm⁴)"}, "y2": {"field": "hi"}}},
   {"mark": {"type": "tick", "orient": "horizontal", "size": 7, "thickness": 1.5, "color": "black"}, "encoding": {"y": {"field": "lo", "type": "quantitative", "title": "Iₘₐₓ (mm⁴)"}}},
   {"mark": {"type": "tick", "orient": "horizontal", "size": 7, "thickness": 1.5, "color": "black"}, "encoding": {"y": {"field": "hi", "type": "quantitative", "title": "Iₘₐₓ (mm⁴)"}}},
   {"mark": {"type": "point", "shape": "circle", "filled": true, "stroke": "black", "strokeWidth": 1, "opacity": 1}, "encoding": {"y": {"field": "m", "type": "quantitative", "title": "Iₘₐₓ (mm⁴)"}, "size": {"condition": {"test": "datum.g=='Ts65Dn'", "value": 50}, "value": 22}, "fill": {"condition": {"test": "datum.g=='Ts65Dn'", "value": "#4d4d4d"}, "value": "black"}}},
   {"transform": [{"filter": "datum.g=='Euploid'"}], "mark": {"type": "text", "fontSize": 14, "baseline": "alphabetic", "dy": -7}, "encoding": {"y": {"field": "hi", "type": "quantitative", "title": "Iₘₐₓ (mm⁴)"}, "text": {"field": "s"}}},
   {"transform": [{"filter": "datum.g=='Ts65Dn'"}], "mark": {"type": "text", "fontSize": 18, "fontWeight": "bold", "baseline": "alphabetic", "dy": 22}, "encoding": {"y": {"field": "lo", "type": "quantitative", "title": "Iₘₐₓ (mm⁴)"}, "text": {"field": "s"}}},
   {"transform": [{"filter": "datum.d==12 && datum.g=='Euploid'"}], "mark": {"type": "text", "fontSize": 31, "fontWeight": "bold", "align": "left", "baseline": "alphabetic", "dx": -31, "dy": -20}, "encoding": {"x": {"datum": 9.96}, "y": {"datum": 0.4}, "text": {"value": "G"}}},
   {"transform": [{"filter": "datum.d==12 && datum.g=='Euploid'"}], "mark": {"type": "text", "fontSize": 15.8, "fontWeight": "bold", "align": "center", "baseline": "alphabetic", "dy": -21}, "encoding": {"x": {"datum": 27.105}, "y": {"datum": 0.4}, "text": {"value": "Maximum Moment of Inertia"}}}
  ]},
 {"width": 322, "height": 177, "data": {"name": "d"}, "transform": [{"filter": "datum.p=='H'"}],
  "encoding": {"x": {"field": "d", "type": "quantitative", "scale": {"domain": [9.96, 44.25], "nice": false, "zero": false}, "axis": {"title": "Postnatal Day", "values": [12,15,18,21,24,27,30,33,36,39,42], "tickCount": 30, "labelExpr": "(datum.value == 21 || (datum.value >= 33 && datum.value <= 39)) ? '' : 'P' + datum.value"}}},
  "layer": [
   {"mark": {"type": "line", "color": "black", "strokeWidth": 2}, "encoding": {"y": {"field": "m", "type": "quantitative", "title": "Iₘᵢₙ (mm⁴)", "scale": {"domain": [0, 0.2], "nice": false, "zero": false}, "axis": {"values": [0, 0.05, 0.1, 0.15, 0.2], "tickCount": 30, "format": ".2f", "labelOverlap": false}}, "strokeDash": {"field": "g", "type": "nominal", "scale": {"domain": ["Euploid", "Ts65Dn"], "range": [[1, 0], [6, 4]]}, "legend": {"orient": "none", "legendX": 108, "legendY": 11, "title": null, "symbolType": "M-1,0H1M0.27,0A0.27,0.27,0,1,1,-0.27,0A0.27,0.27,0,1,1,0.27,0", "labelExpr": "datum.label + '  '", "encode": {"symbols": {"update": {"fill": {"value": "black"}}}}}}}},
   {"mark": {"type": "rule", "color": "black", "strokeWidth": 1.5}, "encoding": {"y": {"field": "lo", "type": "quantitative", "title": "Iₘᵢₙ (mm⁴)"}, "y2": {"field": "hi"}}},
   {"mark": {"type": "tick", "orient": "horizontal", "size": 7, "thickness": 1.5, "color": "black"}, "encoding": {"y": {"field": "lo", "type": "quantitative", "title": "Iₘᵢₙ (mm⁴)"}}},
   {"mark": {"type": "tick", "orient": "horizontal", "size": 7, "thickness": 1.5, "color": "black"}, "encoding": {"y": {"field": "hi", "type": "quantitative", "title": "Iₘᵢₙ (mm⁴)"}}},
   {"mark": {"type": "point", "shape": "circle", "filled": true, "stroke": "black", "strokeWidth": 1, "opacity": 1}, "encoding": {"y": {"field": "m", "type": "quantitative", "title": "Iₘᵢₙ (mm⁴)"}, "size": {"condition": {"test": "datum.g=='Ts65Dn'", "value": 50}, "value": 22}, "fill": {"condition": {"test": "datum.g=='Ts65Dn'", "value": "#4d4d4d"}, "value": "black"}}},
   {"transform": [{"filter": "datum.g=='Euploid'"}], "mark": {"type": "text", "fontSize": 14, "baseline": "alphabetic", "dy": -7}, "encoding": {"y": {"field": "hi", "type": "quantitative", "title": "Iₘᵢₙ (mm⁴)"}, "text": {"field": "s"}}},
   {"transform": [{"filter": "datum.g=='Ts65Dn'"}], "mark": {"type": "text", "fontSize": 18, "fontWeight": "bold", "baseline": "alphabetic", "dy": 22}, "encoding": {"y": {"field": "lo", "type": "quantitative", "title": "Iₘᵢₙ (mm⁴)"}, "text": {"field": "s"}}},
   {"transform": [{"filter": "datum.d==12 && datum.g=='Euploid'"}], "mark": {"type": "text", "fontSize": 31, "fontWeight": "bold", "align": "left", "baseline": "alphabetic", "dx": -25, "dy": -20}, "encoding": {"x": {"datum": 9.96}, "y": {"datum": 0.2}, "text": {"value": "H"}}},
   {"transform": [{"filter": "datum.d==12 && datum.g=='Euploid'"}], "mark": {"type": "text", "fontSize": 15.8, "fontWeight": "bold", "align": "center", "baseline": "alphabetic", "dy": -21}, "encoding": {"x": {"datum": 27.105}, "y": {"datum": 0.2}, "text": {"value": "Minimum Moment of Inertia"}}}
  ]}
 ], "columns": 2, "spacing": {"row": 96, "column": 70}, "bounds": "flush", "resolve": {"scale": {"strokeDash": "independent"}, "legend": {"strokeDash": "independent"}}},
{"hconcat": [
  {"width": 132, "height": 10, "data": {"values": [{"p": "z"}]}, "mark": {"type": "point", "opacity": 0}},
  {"width": 322, "height": 177, "data": {"name": "d"}, "transform": [{"filter": "datum.p=='I'"}],
   "encoding": {"x": {"field": "d", "type": "quantitative", "scale": {"domain": [9.96, 44.25], "nice": false, "zero": false}, "axis": {"title": "Postnatal Day", "values": [12,15,18,21,24,27,30,33,36,39,42], "tickCount": 30, "labelExpr": "(datum.value == 21 || (datum.value >= 33 && datum.value <= 39)) ? '' : 'P' + datum.value"}}},
   "layer": [
    {"mark": {"type": "line", "color": "black", "strokeWidth": 2}, "encoding": {"y": {"field": "m", "type": "quantitative", "title": "Ct.TMD (g/cm³)", "scale": {"domain": [0, 0.5, 1.2], "range": [177, 153, 0], "nice": false, "zero": false}, "axis": {"values": [0, 0.5, 0.6, 0.7, 0.8, 0.9, 1.0, 1.1, 1.2], "tickCount": 30, "format": ".1f", "domain": false, "labelOverlap": false}}, "strokeDash": {"field": "g", "type": "nominal", "scale": {"domain": ["Euploid", "Ts65Dn"], "range": [[1, 0], [6, 4]]}, "legend": {"orient": "none", "legendX": 111, "legendY": -9, "title": null, "symbolType": "M-1,0H1M0.27,0A0.27,0.27,0,1,1,-0.27,0A0.27,0.27,0,1,1,0.27,0", "labelExpr": "datum.label + '  '", "encode": {"symbols": {"update": {"fill": {"value": "black"}}}}}}}},
    {"mark": {"type": "rule", "color": "black", "strokeWidth": 1.5}, "encoding": {"y": {"field": "lo", "type": "quantitative", "title": "Ct.TMD (g/cm³)"}, "y2": {"field": "hi"}}},
    {"mark": {"type": "tick", "orient": "horizontal", "size": 7, "thickness": 1.5, "color": "black"}, "encoding": {"y": {"field": "lo", "type": "quantitative", "title": "Ct.TMD (g/cm³)"}}},
    {"mark": {"type": "tick", "orient": "horizontal", "size": 7, "thickness": 1.5, "color": "black"}, "encoding": {"y": {"field": "hi", "type": "quantitative", "title": "Ct.TMD (g/cm³)"}}},
    {"mark": {"type": "point", "shape": "circle", "filled": true, "stroke": "black", "strokeWidth": 1, "opacity": 1}, "encoding": {"y": {"field": "m", "type": "quantitative", "title": "Ct.TMD (g/cm³)"}, "size": {"condition": {"test": "datum.g=='Ts65Dn'", "value": 50}, "value": 22}, "fill": {"condition": {"test": "datum.g=='Ts65Dn'", "value": "#4d4d4d"}, "value": "black"}}},
    {"transform": [{"filter": "datum.g=='Euploid'"}], "mark": {"type": "text", "fontSize": 14, "baseline": "alphabetic", "dy": -7}, "encoding": {"y": {"field": "hi", "type": "quantitative", "title": "Ct.TMD (g/cm³)"}, "text": {"field": "s"}}},
    {"transform": [{"filter": "datum.g=='Ts65Dn'"}], "mark": {"type": "text", "fontSize": 18, "fontWeight": "bold", "baseline": "alphabetic", "dy": 22}, "encoding": {"y": {"field": "lo", "type": "quantitative", "title": "Ct.TMD (g/cm³)"}, "text": {"field": "s"}}},
    {"transform": [{"filter": "datum.d==12 && datum.g=='Euploid'"}], "mark": {"type": "rule", "color": "black", "strokeWidth": 2.5}, "encoding": {"x": {"datum": 9.96}, "y": {"datum": 0.4375}, "y2": {"datum": 1.2}}},
    {"transform": [{"filter": "datum.d==12 && datum.g=='Euploid'"}], "mark": {"type": "rule", "color": "black", "strokeWidth": 2.5}, "encoding": {"x": {"datum": 9.96}, "y": {"datum": 0}, "y2": {"datum": 0.2083}}},
    {"transform": [{"filter": "datum.d==12 && datum.g=='Euploid'"}], "mark": {"type": "rule", "color": "black", "strokeWidth": 2.5}, "encoding": {"x": {"datum": 9.64}, "x2": {"datum": 10.49}, "y": {"datum": 0.3542}, "y2": {"datum": 0.5183}}},
    {"transform": [{"filter": "datum.d==12 && datum.g=='Euploid'"}], "mark": {"type": "rule", "color": "black", "strokeWidth": 2.5}, "encoding": {"x": {"datum": 9.64}, "x2": {"datum": 10.49}, "y": {"datum": 0.125}, "y2": {"datum": 0.3333}}},
    {"transform": [{"filter": "datum.d==12 && datum.g=='Euploid'"}], "mark": {"type": "text", "fontSize": 31, "fontWeight": "bold", "align": "left", "baseline": "alphabetic", "dx": -16, "dy": -18}, "encoding": {"x": {"datum": 9.96}, "y": {"datum": 1.2}, "text": {"value": "I"}}},
    {"transform": [{"filter": "datum.d==12 && datum.g=='Euploid'"}], "mark": {"type": "text", "fontSize": 15.8, "fontWeight": "bold", "align": "center", "baseline": "alphabetic", "dy": -21}, "encoding": {"x": {"datum": 27.105}, "y": {"datum": 1.2}, "text": {"value": "Cortical Tissue Mineral Density"}}}
   ]}
  ], "spacing": 70, "bounds": "flush", "resolve": {"scale": {"strokeDash": "independent"}, "legend": {"strokeDash": "independent"}}}
]
}
